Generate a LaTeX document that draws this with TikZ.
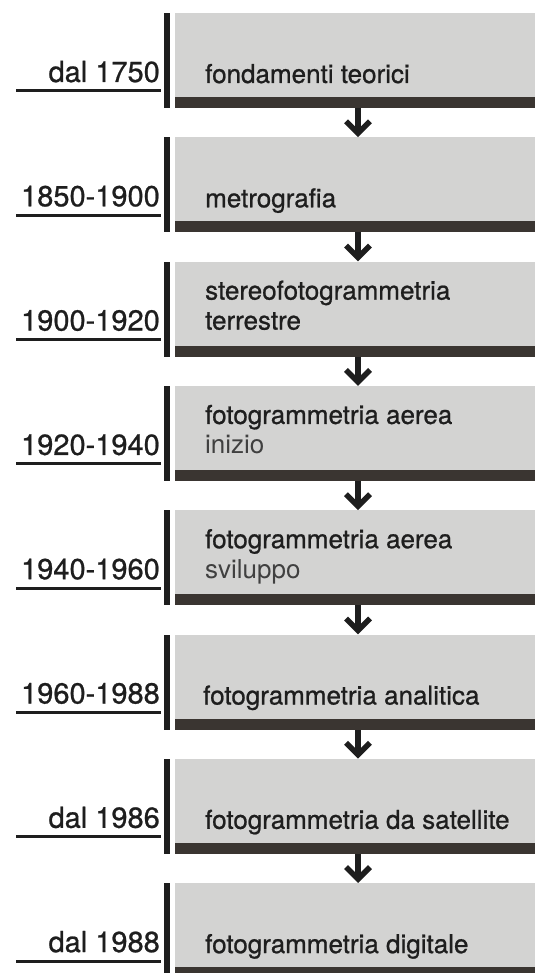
\documentclass[tikz,border=0pt]{standalone}
\usepackage{fontspec}
\setmainfont{TeX Gyre Heros}
\newfontfamily\heavyfont{TeX Gyre Heros}[FakeBold=0.8]
\definecolor{boxgrey}{HTML}{D3D3D2}
\definecolor{bardark}{HTML}{3A3531}
\definecolor{ink}{HTML}{1E1E1E}
\tikzset{
 greybox/.style={fill=boxgrey, minimum width=360pt, minimum height=84pt, inner sep=0pt, outer sep=0pt, anchor=north west},
 darkbar/.style={fill=bardark, minimum width=360pt, minimum height=11pt, inner sep=0pt, outer sep=0pt, anchor=north west},
 vbar/.style={fill=ink, minimum width=6pt, minimum height=95pt, inner sep=0pt, outer sep=0pt, anchor=north west},
 lbl/.style={font=\heavyfont\fontsize{26}{30}\selectfont, text=ink, inner sep=0pt, anchor=base west},
 sublbl/.style={font=\fontsize{26}{30}\selectfont, text=ink!85, inner sep=0pt, anchor=base west},
 datelbl/.style={font=\heavyfont\fontsize{29}{32}\selectfont, text=ink, inner sep=0pt, anchor=base east},
 uline/.style={draw=ink, line width=3pt},
 shaft/.style={draw=ink, line width=6pt},
 chev/.style={draw=ink, line width=5.5pt, miter limit=10},
}
\newcommand\stage[3]{%
 \node[vbar] (v#1) at (164,#2) {};
 \node[greybox] (g#1) at (175,#2) {};
 \node[darkbar] (k#1) at (g#1.south west) {};
 \node[datelbl] (y#1) at (160,#2+69) {#3};
 \draw[uline] (16,#2+78) -- (161,#2+78);
}
\newcommand\flow[2]{%
 \draw[shaft] ([xshift=3pt]k#1.south) -- ([xshift=3pt,yshift=8pt]g#2.north);
 \draw[chev] ([xshift=-9pt,yshift=16pt]g#2.north) -- ([xshift=3pt,yshift=4pt]g#2.north) -- ([xshift=15pt,yshift=16pt]g#2.north);
}
\begin{document}
\begin{tikzpicture}[x=1pt,y=-1pt]
\useasboundingbox (0,0) rectangle (535,973);
\stage{1}{13}{dal 1750}
\stage{2}{137.3}{1850-1900}
\stage{3}{261.6}{1900-1920}
\stage{4}{385.9}{1920-1940}
\stage{5}{510.2}{1940-1960}
\stage{6}{634.5}{1960-1988}
\stage{7}{758.8}{dal 1986}
\stage{8}{883.1}{dal 1988}
\node[lbl] (t1) at (205,13+70) {fondamenti teorici};
\node[lbl] (t2) at (205,137.3+70) {metrografia};
\node[lbl] (t3) at (205,261.6+38) {stereofotogrammetria};
\node[lbl] (t3b) at (205,261.6+68) {terrestre};
\node[lbl] (t4) at (205,385.9+38) {fotogrammetria aerea};
\node[sublbl] (t4b) at (205,385.9+68) {inizio};
\node[lbl] (t5) at (205,510.2+38) {fotogrammetria aerea};
\node[sublbl] (t5b) at (205,510.2+68) {sviluppo};
\node[lbl] (t6) at (203,634.5+70) {fotogrammetria analitica};
\node[lbl] (t7) at (205,758.8+70) {fotogrammetria da satellite};
\node[lbl] (t8) at (205,883.1+70) {fotogrammetria digitale};
\flow{1}{2}
\flow{2}{3}
\flow{3}{4}
\flow{4}{5}
\flow{5}{6}
\flow{6}{7}
\flow{7}{8}
\end{tikzpicture}
\end{document}
